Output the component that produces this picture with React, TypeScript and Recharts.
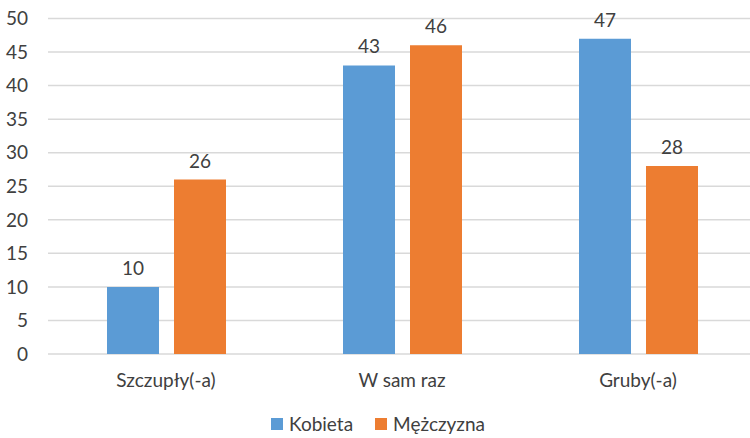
import { BarChart, Bar, XAxis, YAxis, CartesianGrid, Legend, LabelList } from "recharts";

// Categories and series values
const categories = ["Szczupły(-a)", "W sam raz", "Gruby(-a)"];
const kobieta = [10, 43, 47];
const mezczyzna = [26, 46, 28];
const yTicks = [0, 5, 10, 15, 20, 25, 30, 35, 40, 45, 50];

const series = [
  { key: "kobieta", name: "Kobieta", color: "#5B9BD5" },
  { key: "mezczyzna", name: "Mężczyzna", color: "#ED7D31" },
];

const data = categories.map((name, i) => ({ name, kobieta: kobieta[i], mezczyzna: mezczyzna[i] }));

const font = "Lato, 'Open Sans', sans-serif";
const textColor = "#404040";

const LegendContent = () => (
  <div style={{ display: "flex", justifyContent: "center", alignItems: "center", marginTop: 3, lineHeight: "22px", fontFamily: font, fontSize: 19, color: textColor }}>
    {series.map((s, i) => (
      <div key={s.key} style={{ display: "flex", alignItems: "center", marginLeft: i ? 22 : 0 }}>
        <span style={{ width: 12, height: 12, background: s.color, display: "inline-block", marginRight: 6 }} />
        <span>{s.name}</span>
      </div>
    ))}
  </div>
);

const App = () => {
  return (
    <div style={{ position: "absolute", left: 0, top: 0, width: 750, height: 438, overflow: "hidden", background: "#fff" }}>
      <BarChart
        width={756}
        height={438}
        data={data}
        margin={{ top: 18.5, right: 0, left: 0, bottom: 0 }}
        barGap={15}
        barSize={52}
      >
        <CartesianGrid vertical={false} stroke="#D9D9D9" strokeWidth={1.5} />
        <XAxis
          dataKey="name"
          axisLine={false}
          tickLine={false}
          tickSize={0}
          tickMargin={20}
          height={56}
          tick={{ fill: textColor, fontSize: 19, fontFamily: font }}
        />
        <YAxis
          domain={[0, 50]}
          ticks={yTicks}
          interval={0}
          axisLine={false}
          tickLine={false}
          tickSize={0}
          tickMargin={20}
          width={48}
          tick={{ fill: textColor, fontSize: 19, fontFamily: font }}
        />
        <Legend
          verticalAlign="bottom"
          height={28}
          content={<LegendContent />}
        />
        {series.map((s) => (
          <Bar key={s.key} dataKey={s.key} name={s.name} fill={s.color} isAnimationActive={false}>
            <LabelList dataKey={s.key} position="top" offset={12} fill={textColor} fontSize={19} fontFamily={font} />
          </Bar>
        ))}
      </BarChart>
    </div>
  );
};

export default App;
